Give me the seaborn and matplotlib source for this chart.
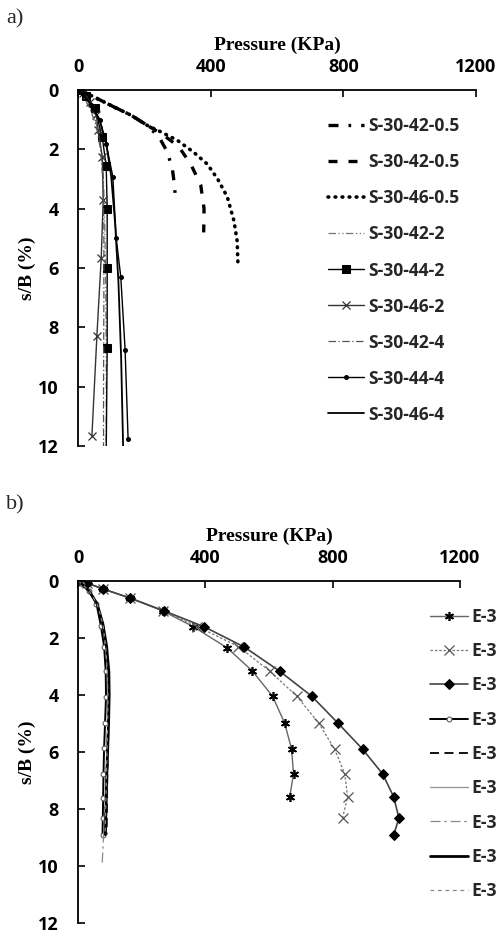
import matplotlib
matplotlib.use("Agg")
import matplotlib.pyplot as plt
import seaborn as sns

sns.set_theme(style="white")
plt.rcParams['font.family'] = ['Open Sans', 'DejaVu Sans']
plt.rcParams['font.weight'] = 'bold'

# ---------------- data: panel a) ----------------
labels_a = ["S-30-42-0.5", "S-30-42-0.5", "S-30-46-0.5", "S-30-42-2", "S-30-44-2",
            "S-30-46-2", "S-30-42-4", "S-30-44-4", "S-30-46-4"]
p_a1 = [0, 20, 60, 110, 160, 210, 245, 270, 285, 292, 293]
s_a1 = [0, 0.08, 0.3, 0.58, 0.85, 1.2, 1.6, 2.1, 2.7, 3.3, 3.8]
p_a2 = [0, 20, 60, 110, 160, 210, 255, 303, 340, 370, 380, 379]
s_a2 = [0, 0.08, 0.3, 0.58, 0.85, 1.2, 1.5, 1.9, 2.5, 3.2, 4.0, 4.8]
p_a3 = [0, 20, 60, 110, 160, 210, 248, 300, 349, 390, 421, 450, 470, 480, 482]
s_a3 = [0, 0.08, 0.3, 0.58, 0.85, 1.2, 1.4, 1.7, 2.1, 2.5, 3.0, 3.6, 4.4, 5.1, 5.8]
p_a4 = [0, 10, 30, 50, 65, 75, 80, 83, 85, 85]
s_a4 = [0, 0.1, 0.4, 0.9, 1.6, 2.5, 4.0, 6.0, 9.0, 12.0]
p_a5 = [0, 25, 50, 73, 85, 88, 88, 88, 85]
s_a5 = [0, 0.2, 0.6, 1.58, 2.56, 4.0, 6.0, 8.7, 12.3]
p_a6 = [0, 15, 35, 55, 61, 73, 76, 70, 57, 42]
s_a6 = [0, 0.1, 0.4, 0.84, 1.35, 2.25, 3.7, 5.66, 8.28, 11.65]
p_a7 = [0, 15, 35, 55, 68, 75, 78, 78, 77, 77]
s_a7 = [0, 0.2, 0.6, 1.2, 2.0, 3.0, 4.5, 7.0, 10.0, 12.0]
p_a8 = [0, 15, 40, 65, 85, 105, 115, 129, 142, 151]
s_a8 = [0, 0.15, 0.5, 1.0, 1.82, 2.92, 4.98, 6.3, 8.75, 11.75]
p_a9 = [0, 15, 40, 65, 85, 100, 112, 122, 130, 136]
s_a9 = [0, 0.15, 0.5, 1.0, 1.8, 2.9, 4.5, 6.5, 9.0, 12.0]

# ---------------- data: panel b) ----------------
labels_b = ["E-30-42-0.5", "E-30-44-0.5", "E-30-46-0.5", "E-30-42-2", "E-30-44-2",
            "E-30-46-2", "E-30-42-4", "E-30-44-4", "E-30-46-4"]
p_b1 = [0, 28, 79, 164, 266, 362, 469, 548, 611, 649, 671, 677, 665]
s_b1 = [0, 0.07, 0.28, 0.6, 1.05, 1.6, 2.35, 3.16, 4.04, 4.98, 5.9, 6.77, 7.58]
p_b2 = [0, 28, 79, 164, 268, 375, 504, 602, 687, 756, 806, 838, 847, 831]
s_b2 = [0, 0.07, 0.28, 0.6, 1.05, 1.6, 2.3, 3.16, 4.04, 4.98, 5.9, 6.77, 7.58, 8.32]
p_b3 = [0, 28, 79, 164, 271, 397, 523, 633, 734, 816, 894, 957, 992, 1008, 992]
s_b3 = [0, 0.07, 0.28, 0.6, 1.05, 1.61, 2.32, 3.16, 4.04, 4.98, 5.9, 6.77, 7.58, 8.32, 8.91]
p_b4 = [0, 12, 35, 58, 72, 82, 87, 88, 85, 82, 80, 79, 78, 77]
s_b4 = [0, 0.1, 0.35, 0.8, 1.58, 2.3, 3.15, 4.06, 4.98, 5.87, 6.78, 7.6, 8.3, 8.92]
p_b5 = [0, 12, 35, 60, 78, 88, 95, 97, 96, 94, 92, 91, 90]
s_b5 = [0, 0.1, 0.35, 0.8, 1.5, 2.3, 3.2, 4.0, 5.0, 6.0, 7.0, 8.0, 8.9]
p_b6 = [0, 12, 35, 60, 78, 88, 94, 96, 95, 93, 91, 89, 88]
s_b6 = [0, 0.1, 0.35, 0.8, 1.5, 2.3, 3.2, 4.0, 5.0, 6.0, 7.0, 8.0, 8.9]
p_b7 = [0, 12, 35, 60, 78, 88, 93, 95, 93, 90, 87, 84, 80, 76]
s_b7 = [0, 0.1, 0.35, 0.8, 1.5, 2.3, 3.2, 4.0, 5.0, 6.0, 7.0, 8.0, 9.0, 9.9]
p_b8 = [0, 12, 35, 60, 78, 90, 97, 98, 96, 93, 90, 88, 86]
s_b8 = [0, 0.1, 0.35, 0.8, 1.5, 2.3, 3.2, 4.0, 5.0, 6.0, 7.0, 8.0, 8.9]
p_b9 = [0, 12, 35, 60, 78, 87, 92, 94, 93, 91, 89, 87, 85]
s_b9 = [0, 0.1, 0.35, 0.8, 1.5, 2.3, 3.2, 4.0, 5.0, 6.0, 7.0, 8.0, 8.9]

x_ticks = [0, 400, 800, 1200]
y_ticks = [0, 2, 4, 6, 8, 10, 12]

series_a = [(p_a1, s_a1), (p_a2, s_a2), (p_a3, s_a3), (p_a4, s_a4), (p_a5, s_a5),
            (p_a6, s_a6), (p_a7, s_a7), (p_a8, s_a8), (p_a9, s_a9)]
series_b = [(p_b1, s_b1), (p_b2, s_b2), (p_b3, s_b3), (p_b4, s_b4), (p_b5, s_b5),
            (p_b6, s_b6), (p_b7, s_b7), (p_b8, s_b8), (p_b9, s_b9)]

styles_a = [
    dict(color='black', lw=2.4, linestyle=(0, (3.0, 3.0, 0.8, 3.0))),
    dict(color='black', lw=2.4, linestyle=(0, (2.7, 3.3))),
    dict(color='black', lw=2.6, linestyle=(0, (0.2, 1.75)), dash_capstyle='round'),
    dict(color='#777777', lw=0.9, linestyle=(0, (6, 2, 1, 2, 1, 2))),
    dict(color='black', lw=1.0, linestyle='-', marker='s', ms=5.5, mfc='black', mec='black'),
    dict(color='#333333', lw=1.0, linestyle='-', marker='x', ms=6, mew=0.9, mec='#333333'),
    dict(color='#555555', lw=0.9, linestyle=(0, (6, 2, 1, 2))),
    dict(color='black', lw=1.0, linestyle='-', marker='o', ms=2.8, mfc='black', mec='black'),
    dict(color='black', lw=1.3, linestyle='-'),
]
styles_b = [
    dict(color='#666666', lw=1.0, linestyle='-', marker=(6, 2, 0), ms=6.5, mec='black', mew=1.2),
    dict(color='#777777', lw=0.9, linestyle=(0, (2, 1.5)), marker='x', ms=6.5, mec='#555555', mew=0.9),
    dict(color='#444444', lw=1.2, linestyle='-', marker='D', ms=5, mfc='black', mec='black'),
    dict(color='black', lw=1.4, linestyle='-', marker='o', ms=3.5, mfc='white', mec='#555555'),
    dict(color='black', lw=1.3, linestyle=(0, (5, 3))),
    dict(color='#999999', lw=1.0, linestyle='-'),
    dict(color='#888888', lw=0.9, linestyle=(0, (8, 3, 2, 3))),
    dict(color='black', lw=2.0, linestyle='-'),
    dict(color='#888888', lw=0.9, linestyle=(0, (3, 3))),
]

W, H = 496, 933
fig = plt.figure(figsize=(W / 100, H / 100), dpi=100)
ax1 = fig.add_axes([78 / W, 1 - 446 / H, (476 - 78) / W, (446 - 90) / H])
ax2 = fig.add_axes([78 / W, 1 - 923 / H, (460 - 78) / W, (923 - 581) / H])

serif = dict(family='Liberation Serif', weight='bold', size=14)

for ax, series, styles, labels in [(ax1, series_a, styles_a, labels_a),
                                   (ax2, series_b, styles_b, labels_b)]:
    for (p, s), st, lbl in zip(series, styles, labels):
        sns.lineplot(x=p, y=s, sort=False, estimator=None, ax=ax, label=lbl, **st)
    leg = ax.get_legend()
    if leg is not None:
        leg.remove()
    ax.set_xlim(0, 1200)
    ax.set_ylim(12, 0)
    ax.xaxis.tick_top()
    ax.xaxis.set_label_position('top')
    ax.set_xticks(x_ticks)
    ax.set_yticks(y_ticks)
    ax.set_xticklabels([str(v) for v in x_ticks])
    ax.set_yticklabels([str(v) for v in y_ticks])
    for side in ['right', 'bottom']:
        ax.spines[side].set_visible(False)
    for side in ['top', 'left']:
        ax.spines[side].set_visible(True)
        ax.spines[side].set_color('black')
        ax.spines[side].set_linewidth(1.3)
    ax.tick_params(axis='x', direction='in', length=5, width=1.2, color='black',
                   labelsize=13, pad=10, top=True, bottom=False, labeltop=True, labelbottom=False)
    ax.tick_params(axis='y', direction='in', length=5, width=1.2, color='black',
                   labelsize=13, pad=14, left=True)
    for t in ax.get_xticklabels() + ax.get_yticklabels():
        t.set_fontweight('bold')
        t.set_color('black')
    ax.set_xlabel('Pressure (KPa)', fontdict=serif, labelpad=6, color='black')
    ax.set_ylabel('s/B (%)', fontdict=serif, labelpad=1, color='black')
    ax.grid(False)
    ax.set_facecolor('none')

legprop = dict(family='Open Sans', weight='bold', size=12.6)
h1, l1 = ax1.get_legend_handles_labels()
fig.legend(h1, l1, loc='center left', bbox_to_anchor=(328 / W, 1 - 270.5 / H),
           frameon=False, prop=legprop, borderaxespad=0,
           labelspacing=1.03, handlelength=2.05, handletextpad=0.25, borderpad=0)
h2, l2 = ax2.get_legend_handles_labels()
fig.legend(h2, l2, loc='center left', bbox_to_anchor=(430 / W, 1 - 754 / H),
           frameon=False, prop=legprop, borderaxespad=0,
           labelspacing=0.93, handlelength=2.17, handletextpad=0.2, borderpad=0)

fig.text(6 / W, 1 - 19 / H, 'a)', family='Liberation Serif', fontsize=16, weight='normal',
         va='center', ha='left')
fig.text(6 / W, 1 - 505 / H, 'b)', family='Liberation Serif', fontsize=16, weight='normal',
         va='center', ha='left')

fig.savefig('out.png', dpi=100, facecolor='white')
